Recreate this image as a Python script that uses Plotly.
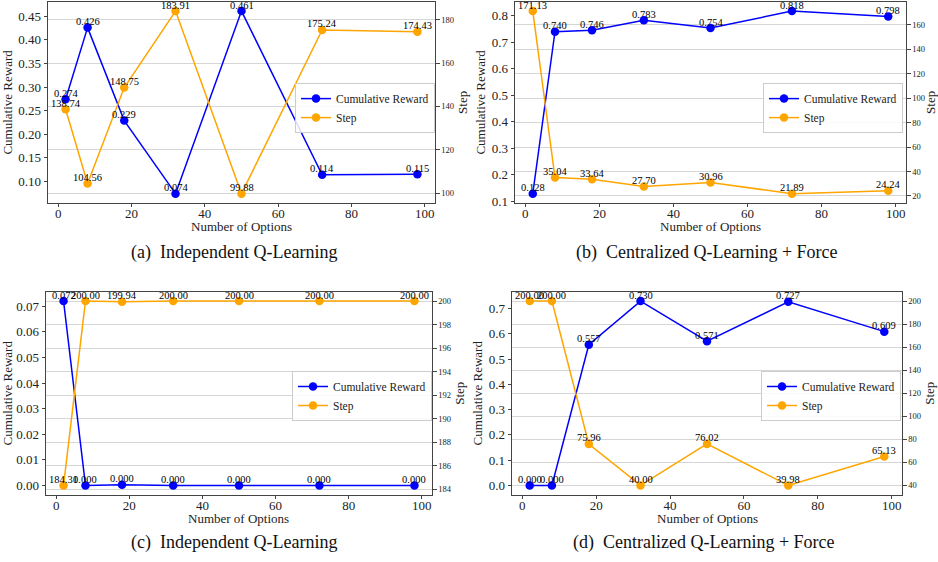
import plotly.graph_objects as go

# Number of options evaluated
options = [2, 8, 18, 32, 50, 72, 98]

# (a) Independent Q-Learning
reward_a = [0.274, 0.426, 0.229, 0.074, 0.461, 0.114, 0.115]
step_a = [138.74, 104.56, 148.75, 183.91, 99.88, 175.24, 174.43]

# (b) Centralized Q-Learning + Force
reward_b = [0.128, 0.740, 0.746, 0.783, 0.754, 0.818, 0.798]
step_b = [171.13, 35.04, 33.64, 27.70, 30.96, 21.89, 24.24]

# (c) Independent Q-Learning
reward_c = [0.072, 0.000, 0.0003, 0.000, 0.000, 0.000, 0.000]
step_c = [184.31, 200.00, 199.94, 200.00, 200.00, 200.00, 200.00]

# (d) Centralized Q-Learning + Force
reward_d = [0.000, 0.000, 0.557, 0.730, 0.571, 0.727, 0.609]
step_d = [200.00, 200.00, 75.96, 40.00, 76.02, 39.98, 65.13]

captions = ["(a)  Independent Q-Learning", "(b)  Centralized Q-Learning + Force",
            "(c)  Independent Q-Learning", "(d)  Centralized Q-Learning + Force"]

W, H = 938, 562
SERIF = "Liberation Serif, Times New Roman, DejaVu Serif, serif"
BLUE = "#0000ff"
ORANGE = "#ffa500"
INK = "#222"

# panel boxes in pixels: (left, right, top, bottom)
boxes = [(48, 435, 2, 205), (515, 906, 2, 205), (46, 432, 295, 500), (512, 902, 295, 500)]
reward_ticks = [
    (0.10, 0.45, 0.05, ".2f"),
    (0.1, 0.8, 0.1, ".1f"),
    (0.00, 0.07, 0.01, ".2f"),
    (0.0, 0.7, 0.1, ".1f"),
]
step_ticks = [(100, 180, 20), (20, 160, 20), (184, 200, 2), (40, 200, 20)]
legend_pos = [(295, 84), (763, 84), (292, 375), (761, 375)]

panels = [(reward_a, step_a), (reward_b, step_b), (reward_c, step_c), (reward_d, step_d)]


def padded(vals, frac=0.05):
    lo, hi = min(vals), max(vals)
    span = hi - lo
    return [lo - frac * span, hi + frac * span]


def px_x(x):
    return x / W


def px_y(y):
    return 1 - y / H


fig = go.Figure()
annotations = []
layout = {}

for i, (rew, stp) in enumerate(panels):
    n = i + 1
    xa = "x" if n == 1 else f"x{n}"
    ya = f"y{2 * n - 1}" if n > 1 else "y"
    yb = f"y{2 * n}"
    leg = "legend" if n == 1 else f"legend{n}"
    l, r, t, b = boxes[i]

    fig.add_trace(go.Scatter(
        x=options, y=rew, mode="lines+markers", name="Cumulative Reward",
        line=dict(color=BLUE, width=1.5), marker=dict(color=BLUE, size=8.5),
        xaxis=xa, yaxis=ya, legend=leg))
    fig.add_trace(go.Scatter(
        x=options, y=stp, mode="lines+markers", name="Step",
        line=dict(color=ORANGE, width=1.5), marker=dict(color=ORANGE, size=8.5),
        xaxis=xa, yaxis=yb, legend=leg))

    # value labels above each point
    for xv, rv in zip(options, rew):
        annotations.append(dict(x=xv, y=rv, xref=xa, yref=ya, text=f"{rv:.3f}",
                                showarrow=False, yanchor="middle", yshift=6,
                                font=dict(family=SERIF, size=10.5, color="black")))
    for xv, sv in zip(options, stp):
        annotations.append(dict(x=xv, y=sv, xref=xa, yref=yb, text=f"{sv:.2f}",
                                showarrow=False, yanchor="middle", yshift=6,
                                font=dict(family=SERIF, size=10.5, color="black")))

    x_dom = [px_x(l), px_x(r)]
    y_dom = [px_y(b), px_y(t)]
    axis_line = dict(showline=True, linecolor="#444", linewidth=1, mirror=True,
                     ticks="outside", ticklen=3.5, tickcolor="#444")

    xkey = "xaxis" if n == 1 else f"xaxis{n}"
    layout[xkey] = dict(
        domain=x_dom, anchor=ya, range=padded(options), tickvals=[0, 20, 40, 60, 80, 100],
        showgrid=False, zeroline=False, ticklabelstandoff=-5,
        tickfont=dict(family=SERIF, size=13, color=INK),
        **axis_line)
    # x-axis caption sits tight under the tick labels
    annotations.append(dict(x=(x_dom[0] + x_dom[1]) / 2, y=px_y(b + 24), xref="paper",
                            yref="paper", text="Number of Options", showarrow=False,
                            xanchor="center", yanchor="middle",
                            font=dict(family=SERIF, size=13, color=INK)))

    r0, r1, rs, fmt = reward_ticks[i]
    rvals = []
    v = r0
    while v <= r1 + 1e-9:
        rvals.append(round(v, 4))
        v += rs
    ykey = "yaxis" if n == 1 else f"yaxis{2 * n - 1}"
    layout[ykey] = dict(
        domain=y_dom, anchor=xa, range=padded(rew), tickvals=rvals,
        ticktext=[format(t_, fmt) for t_ in rvals],
        showgrid=False, zeroline=False,
        tickfont=dict(family=SERIF, size=13, color=INK),
        title=dict(text="Cumulative Reward", standoff=3,
                   font=dict(family=SERIF, size=13, color=INK)),
        **axis_line)

    s0, s1, ss = step_ticks[i]
    layout[f"yaxis{2 * n}"] = dict(
        domain=y_dom, anchor=xa, overlaying=ya, side="right", range=padded(stp),
        tickvals=list(range(s0, s1 + 1, ss)),
        showgrid=True, gridcolor="#d6d6d6", gridwidth=1, zeroline=False,
        showline=False, ticks="outside", ticklen=3.5, tickcolor="#444",
        tickfont=dict(family=SERIF, size=8.5, color=INK),
        title=dict(text="Step", standoff=4,
                   font=dict(family=SERIF, size=13, color=INK)))

    lx, ly = legend_pos[i]
    layout[leg] = dict(
        x=px_x(lx), y=px_y(ly), xanchor="left", yanchor="top",
        bgcolor="rgba(255,255,255,0.85)", bordercolor="#cccccc", borderwidth=1,
        font=dict(family=SERIF, size=11.5, color=INK), itemwidth=30,
        tracegroupgap=0)

# captions under each panel
caption_pos = [(234, 255), (707, 255), (234, 548), (704, 548)]
for text, (cx, cy) in zip(captions, caption_pos):
    annotations.append(dict(x=px_x(cx), y=px_y(cy), xref="paper", yref="paper",
                            text=text, showarrow=False, xanchor="center", yanchor="middle",
                            font=dict(family=SERIF, size=18, color="#111")))

fig.update_layout(
    width=W, height=H, margin=dict(l=0, r=0, t=0, b=0),
    paper_bgcolor="white", plot_bgcolor="white",
    font=dict(family=SERIF, color=INK),
    annotations=annotations, **layout)

fig.write_html("out.html")
